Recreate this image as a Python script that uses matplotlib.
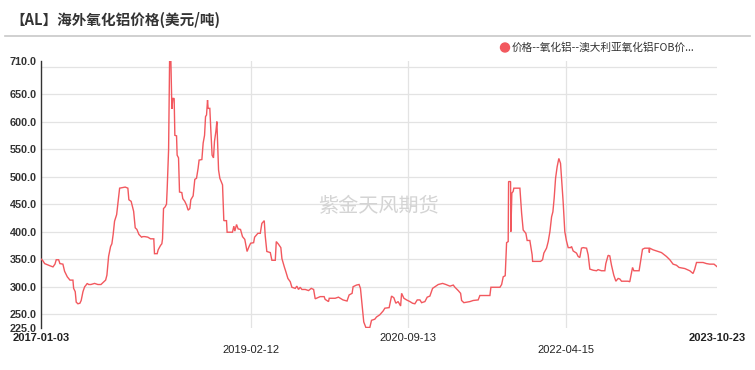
import matplotlib
matplotlib.use("Agg")
import matplotlib.pyplot as plt
import pandas as pd
import numpy as np

plt.rcParams['font.family'] = ['Noto Sans CJK SC', 'DejaVu Sans']

title = "【AL】海外氧化铝价格(美元/吨)"
series_name = "价格--氧化铝--澳大利亚氧化铝FOB价..."
watermark = "紫金天风期货"

# time as decimal years, price in USD/t
years = [
    2017.008, 2017.025, 2017.042, 2017.096, 2017.126, 2017.146, 2017.159, 2017.183, 2017.196, 2017.226,
    2017.243, 2017.270, 2017.297, 2017.327, 2017.334, 2017.350, 2017.360, 2017.377, 2017.397, 2017.410,
    2017.428, 2017.445, 2017.455, 2017.471, 2017.485, 2017.508, 2017.545, 2017.578, 2017.609, 2017.639,
    2017.656, 2017.669, 2017.686, 2017.706, 2017.719, 2017.732, 2017.746, 2017.767, 2017.780, 2017.797,
    2017.853, 2017.880, 2017.890, 2017.913, 2017.938, 2017.954, 2017.971, 2017.991, 2018.018, 2018.031,
    2018.051, 2018.081, 2018.108, 2018.141, 2018.148, 2018.175, 2018.185, 2018.209, 2018.222, 2018.229,
    2018.239, 2018.255, 2018.269, 2018.276, 2018.290, 2018.300, 2018.313, 2018.323, 2018.333, 2018.346,
    2018.353, 2018.370, 2018.376, 2018.390, 2018.400, 2018.423, 2018.433, 2018.453, 2018.471, 2018.487,
    2018.504, 2018.514, 2018.537, 2018.554, 2018.571, 2018.587, 2018.597, 2018.625, 2018.638, 2018.652,
    2018.662, 2018.672, 2018.682, 2018.688, 2018.705, 2018.715, 2018.728, 2018.742, 2018.752, 2018.766,
    2018.776, 2018.786, 2018.793, 2018.806, 2018.819, 2018.833, 2018.846, 2018.873, 2018.879, 2018.933,
    2018.947, 2018.957, 2018.974, 2018.990, 2019.014, 2019.034, 2019.057, 2019.080, 2019.100, 2019.116,
    2019.146, 2019.156, 2019.189, 2019.213, 2019.229, 2019.253, 2019.263, 2019.279, 2019.314, 2019.330,
    2019.364, 2019.374, 2019.397, 2019.420, 2019.431, 2019.455, 2019.471, 2019.491, 2019.515, 2019.531,
    2019.565, 2019.581, 2019.598, 2019.615, 2019.632, 2019.666, 2019.699, 2019.726, 2019.750, 2019.766,
    2019.816, 2019.856, 2019.866, 2019.900, 2019.907, 2019.967, 2020.000, 2020.046, 2020.086, 2020.107,
    2020.137, 2020.147, 2020.181, 2020.207, 2020.221, 2020.237, 2020.254, 2020.275, 2020.315, 2020.332,
    2020.365, 2020.382, 2020.415, 2020.449, 2020.466, 2020.509, 2020.533, 2020.556, 2020.576, 2020.599,
    2020.624, 2020.634, 2020.657, 2020.684, 2020.717, 2020.744, 2020.767, 2020.791, 2020.818, 2020.835,
    2020.868, 2020.891, 2020.918, 2020.945, 2020.969, 2021.002, 2021.046, 2021.079, 2021.120, 2021.153,
    2021.170, 2021.203, 2021.227, 2021.237, 2021.260, 2021.321, 2021.354, 2021.404, 2021.421, 2021.522,
    2021.532, 2021.623, 2021.640, 2021.656, 2021.676, 2021.690, 2021.706, 2021.710, 2021.730, 2021.733,
    2021.743, 2021.756, 2021.763, 2021.824, 2021.841, 2021.857, 2021.884, 2021.897, 2021.924, 2021.941,
    2021.947, 2021.952, 2022.032, 2022.052, 2022.065, 2022.092, 2022.109, 2022.126, 2022.143, 2022.156,
    2022.169, 2022.183, 2022.199, 2022.216, 2022.233, 2022.243, 2022.259, 2022.276, 2022.293, 2022.310,
    2022.334, 2022.344, 2022.360, 2022.394, 2022.410, 2022.427, 2022.444, 2022.461, 2022.495, 2022.511,
    2022.528, 2022.561, 2022.595, 2022.611, 2022.645, 2022.679, 2022.689, 2022.712, 2022.729, 2022.746,
    2022.769, 2022.790, 2022.813, 2022.830, 2022.847, 2022.913, 2022.930, 2022.958, 2022.971, 2023.024,
    2023.038, 2023.058, 2023.081, 2023.124, 2023.127, 2023.131, 2023.165, 2023.215, 2023.249, 2023.299,
    2023.333, 2023.366, 2023.400, 2023.426, 2023.484, 2023.534, 2023.567, 2023.584, 2023.602, 2023.668,
    2023.702, 2023.735, 2023.778, 2023.811,
]
prices = [
    350, 347, 342, 338, 336, 341, 349, 349, 342, 341,
    328, 318, 312, 312, 297, 291, 272, 269, 270, 275,
    291, 300, 302, 306, 304, 304, 306, 304, 304, 309,
    312, 321, 355, 373, 378, 395, 419, 431, 452, 479,
    481, 479, 458, 455, 437, 407, 404, 395, 390, 391,
    391, 390, 387, 387, 360, 360, 367, 375, 378, 387,
    442, 445, 450, 479, 549, 710, 710, 623, 642, 642,
    575, 574, 539, 534, 472, 471, 460, 455, 448, 439,
    442, 458, 465, 495, 497, 515, 530, 531, 561, 575,
    609, 612, 639, 624, 624, 585, 539, 534, 564, 582,
    600, 551, 512, 497, 491, 485, 420, 420, 399, 399,
    410, 401, 413, 405, 404, 391, 386, 364, 373, 379,
    380, 390, 397, 397, 415, 420, 392, 364, 362, 348,
    348, 382, 377, 371, 351, 336, 327, 315, 309, 299,
    297, 301, 295, 299, 295, 295, 293, 297, 295, 278,
    282, 282, 277, 273, 279, 279, 281, 276, 274, 285,
    288, 300, 303, 304, 297, 267, 236, 226, 226, 239,
    241, 245, 249, 256, 261, 262, 283, 280, 270, 273,
    265, 288, 279, 276, 273, 270, 269, 276, 276, 271,
    273, 281, 283, 297, 300, 304, 306, 304, 301, 303,
    299, 293, 288, 275, 271, 273, 275, 276, 284, 284,
    299, 299, 304, 318, 320, 380, 382, 491, 491, 400,
    470, 473, 479, 479, 434, 403, 397, 384, 384, 364,
    358, 346, 346, 349, 361, 370, 382, 400, 427, 436,
    461, 497, 518, 533, 524, 497, 455, 400, 383, 371,
    371, 373, 365, 361, 355, 353, 370, 371, 370, 358,
    332, 330, 329, 331, 329, 329, 342, 357, 356, 339,
    321, 310, 315, 314, 310, 310, 309, 335, 329, 329,
    345, 368, 370, 370, 362, 370, 367, 364, 362, 355,
    349, 341, 339, 335, 333, 329, 324, 332, 344, 344,
    342, 341, 341, 336,
]

start_date = "2017-01-03"
end_date = "2023-10-23"
x_tick_dates = ["2017-01-03", "2019-02-12", "2020-09-13", "2022-04-15", "2023-10-23"]
y_min, y_max = 225, 710
y_grid = [250, 300, 350, 400, 450, 500, 550, 600, 650, 700]
y_labels = [225, 250, 300, 350, 400, 450, 500, 550, 600, 650, 710]


def to_date(y):
    yr = int(np.floor(y))
    base = pd.Timestamp(year=yr, month=1, day=1)
    nxt = pd.Timestamp(year=yr + 1, month=1, day=1)
    return base + (nxt - base) * (y - yr)


dates = [to_date(y) for y in years]

line_color = '#f2585e'
fig = plt.figure(figsize=(7.55, 3.70), dpi=100)
ax = fig.add_axes([41 / 755, 42 / 370, 676 / 755, 267 / 370])

ax.plot(dates, prices, color=line_color, lw=1.0, solid_joinstyle='miter', zorder=3, clip_on=True)

ax.set_xlim(pd.Timestamp(start_date), pd.Timestamp(end_date))
ax.set_ylim(y_min, y_max)

# grid
for g in y_grid:
    ax.axhline(g, color='#e3e3e3', lw=0.9, zorder=1)
for d in x_tick_dates[1:-1]:
    ax.axvline(pd.Timestamp(d), color='#e3e3e3', lw=0.9, zorder=1)

for s in ['top', 'right', 'bottom']:
    ax.spines[s].set_visible(False)
ax.spines['left'].set_color('#333333')
ax.spines['left'].set_linewidth(1.0)

ax.set_yticks(y_labels)
ax.set_yticklabels([f"{v:.1f}" for v in y_labels], fontfamily='Liberation Sans',
                   fontweight='bold', fontsize=7.8, color='#333333')
ax.tick_params(axis='y', length=0, pad=3)
ax.set_xticks([])

# x labels (staggered)
offsets = [-10, -22, -10, -22, -10]
weights = ['bold', 'normal', 'normal', 'normal', 'bold']
for d, off, w in zip(x_tick_dates, offsets, weights):
    ax.annotate(d, xy=(pd.Timestamp(d), 0), xycoords=('data', 'axes fraction'),
                xytext=(0, off), textcoords='offset pixels', ha='center', va='center',
                fontsize=8, fontweight=w, fontfamily='Liberation Sans', color='#222222',
                annotation_clip=False)

# title and separator
fig.text(10 / 755, 1 - 20 / 370, title, fontsize=10.5, fontweight='bold', color='#333333',
         ha='left', va='center')
fig.add_artist(plt.Line2D([5 / 755, 750 / 755], [1 - 36 / 370, 1 - 36 / 370],
                          color='#c8c8c8', lw=1.2, transform=fig.transFigure))

# legend
fig.add_artist(matplotlib.patches.Ellipse((505 / 755, 1 - 47.5 / 370), 9 / 755, 9 / 370,
                                          color=line_color, transform=fig.transFigure))
fig.text(512 / 755, 1 - 47.5 / 370, series_name, fontsize=7.7, color='#333333',
         ha='left', va='center')

# watermark
ax.text(0.5, 0.455, watermark, transform=ax.transAxes, fontsize=14.5, color='#d4d4d4',
        ha='center', va='center', zorder=2)

fig.savefig('out.png', dpi=100)
